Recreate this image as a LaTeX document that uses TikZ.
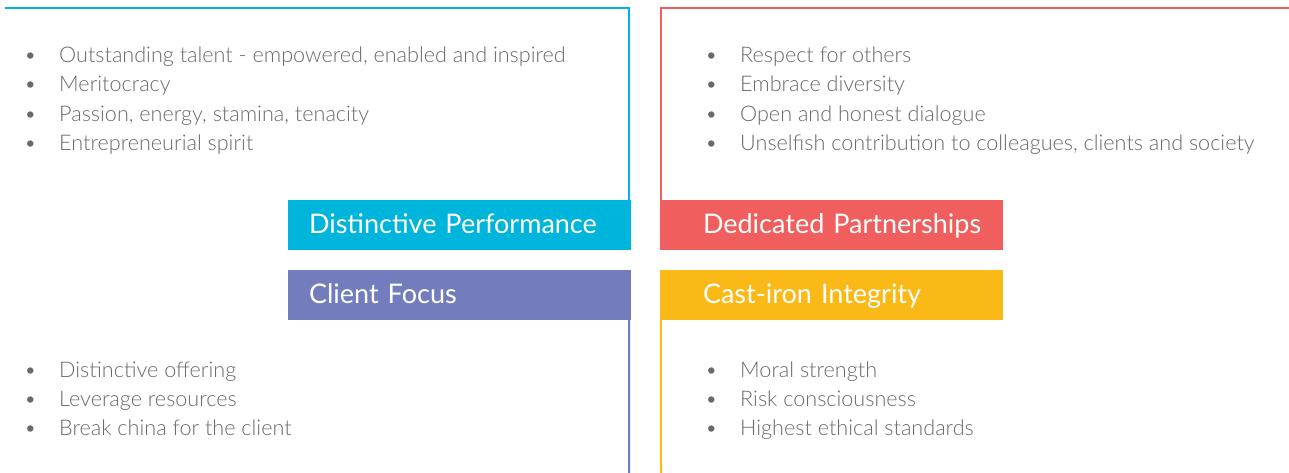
\documentclass[tikz,border=0pt]{standalone}
\usepackage{fontspec}
\setmainfont{Lato}
\IfFontExistsTF{Lato Light}{\newfontfamily\listfont{Lato Light}}{\newfontfamily\listfont{Lato}}
\usetikzlibrary{positioning}

\definecolor{perfcyan}{RGB}{0,181,219}
\definecolor{partred}{RGB}{240,94,94}
\definecolor{clientpurple}{RGB}{115,125,190}
\definecolor{integyellow}{RGB}{251,185,23}
\definecolor{listgray}{RGB}{105,105,105}

\newcommand{\bulletrows}[1]{\begin{tabular}[t]{@{}p{35pt}@{}l@{}}#1\end{tabular}}

\begin{document}
\begin{tikzpicture}[x=1pt,y=-1pt,node distance=372pt]
\tikzstyle{box}=[rectangle,fill,text=white,minimum width=343pt,minimum height=50pt,inner xsep=21pt,text width=301pt,text height=20pt,text depth=3pt,align=left,font=\fontsize{27}{30}\selectfont]
\tikzstyle{list}=[anchor=base west,inner sep=0pt,text=listgray,font=\listfont\fontsize{21.6}{29.4}\selectfont]
\tikzstyle{frame}=[line width=2pt]

\useasboundingbox (0,0) rectangle (1289,473);

% the four value boxes
\node[box,fill=perfcyan] (perf) at (459.5,225) {Distinctive Performance};
\node[box,fill=partred,right of=perf] (partner) {\hspace*{22pt}Dedicated Partnerships};
\node[box,fill=clientpurple,below of=perf,node distance=70pt] (client) {Client Focus};
\node[box,fill=integyellow,right of=client] (integ) {\hspace*{22pt}Cast-iron Integrity};

% frame lines
\coordinate (ctop) at (5,8);
\coordinate (rtop) at (1289,8);
\coordinate (pbot) at (629,473);
\coordinate (ybot) at (661,473);
\draw[frame,perfcyan] ([xshift=-2pt]perf.north east) |- (ctop);
\draw[frame,partred] ([xshift=1pt]partner.north west) |- (rtop);
\draw[frame,clientpurple] ([xshift=-2pt]client.south east) -- (pbot);
\draw[frame,integyellow] ([xshift=1pt]integ.south west) -- (ybot);

% bullet lists
\node[list] (perflist) at (24,62.5) {\bulletrows{
  \textbullet & Outstanding talent - empowered, enabled and inspired\\
  \textbullet & Meritocracy\\
  \textbullet & Passion, energy, stamina, tenacity\\
  \textbullet & Entrepreneurial spirit}};
\node[list] (partlist) at (705,62.5) {\bulletrows{
  \textbullet & Respect for others\\
  \textbullet & Embrace diversity\\
  \textbullet & Open and honest dialogue\\
  \textbullet & Unselfish contribution to colleagues, clients and society}};
\node[list] (clientlist) at (24,377) {\bulletrows{
  \textbullet & Distinctive offering\\
  \textbullet & Leverage resources\\
  \textbullet & Break china for the client}};
\node[list] (integlist) at (705,377) {\bulletrows{
  \textbullet & Moral strength\\
  \textbullet & Risk consciousness\\
  \textbullet & Highest ethical standards}};
\end{tikzpicture}
\end{document}
